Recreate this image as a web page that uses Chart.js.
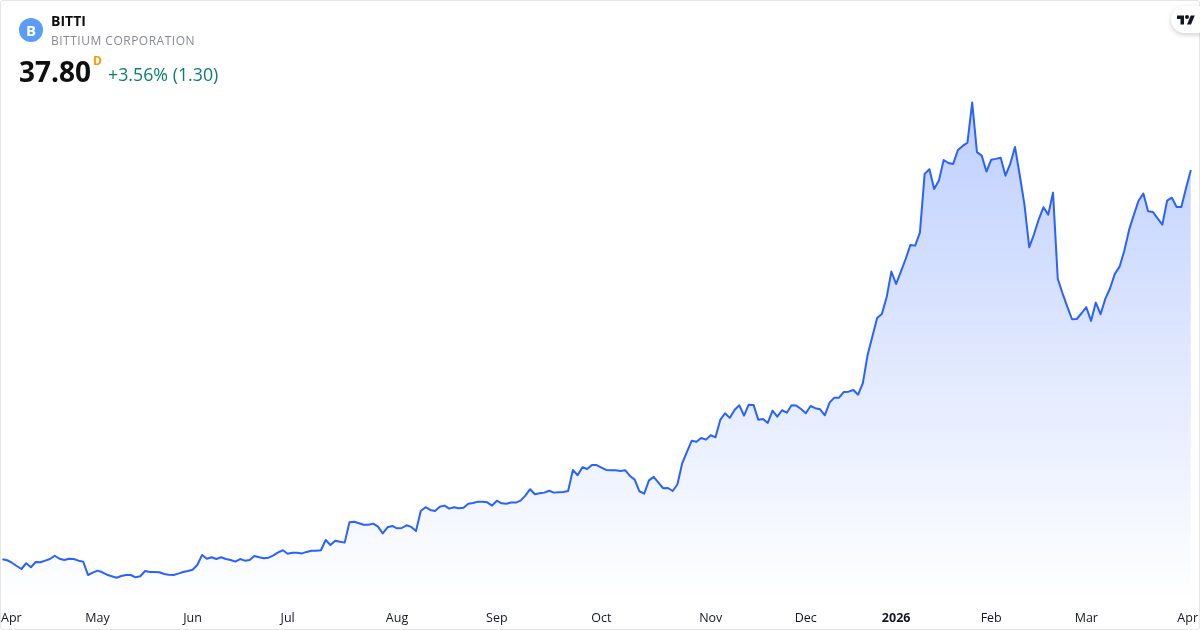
<!DOCTYPE html>
<html>
<head>
<meta charset="utf-8">
<title>BITTI</title>
<script src="https://cdn.jsdelivr.net/npm/chart.js@4"></script>
<style>
  html, body { margin: 0; padding: 0; background: #fff; }
  #wrap { position: relative; width: 1200px; height: 630px; overflow: hidden; font-family: "Open Sans", sans-serif; }
  #frame { position: absolute; left: 0; top: 0; width: 1198px; height: 628px; border: 1px solid #e6e6e6; border-radius: 3px; pointer-events: none; }
  canvas { position: absolute; left: 0; top: 0; }
  .t { position: absolute; white-space: nowrap; line-height: 1; }
  #icon { position: absolute; left: 19px; top: 18px; width: 24px; height: 24px; border-radius: 50%; background: #5a9cf8; color: #fff; font-weight: 700; font-size: 15px; line-height: 24px; text-align: center; }
  #logo { position: absolute; left: 1171px; top: 6px; width: 40px; height: 27px; border-radius: 14px; background: #fff; box-shadow: 0 2px 5px rgba(0,0,0,0.18); }
  #logo svg { position: absolute; left: 6px; top: 9px; }
</style>
</head>
<body>
<div id="wrap">
  <canvas id="priceChart" width="1200" height="630"></canvas>
  <div id="frame"></div>
  <div id="icon">B</div>
  <div class="t" style="left:51px;top:14px;font-size:14px;font-weight:700;color:#0f0f0f">BITTI</div>
  <div class="t" style="left:51px;top:35px;font-size:12px;letter-spacing:0.5px;color:#868993">BITTIUM CORPORATION</div>
  <div class="t" style="left:19px;top:57px;font-size:28px;font-weight:700;color:#0f0f0f">37.80</div>
  <div class="t" style="left:93px;top:55px;font-size:12px;font-weight:700;color:#ff9800">D</div>
  <div class="t" style="left:108px;top:66px;font-size:17.8px;color:#0a7f6e">+3.56% (1.30)</div>
  <div id="logo">
    <svg width="18" height="10" viewBox="0 3 36 20"><path fill="#131722" d="M14 22H7V11H0V4h14v18zM28 22h-8l7.5-18h8L28 22z"/><circle fill="#131722" cx="20" cy="7" r="4"/></svg>
  </div>
</div>
<script>
// daily closes, one per trading day
var closes = [
  9.30, 9.23, 9.05, 8.81, 8.59, 9.01, 8.72, 9.10, 9.08, 9.20,
  9.32, 9.56, 9.34, 9.25, 9.34, 9.32, 9.20, 9.13, 8.15, 8.32,
  8.47, 8.35, 8.17, 8.06, 7.95, 8.08, 8.15, 8.15, 7.98, 8.06,
  8.44, 8.37, 8.37, 8.35, 8.22, 8.17, 8.15, 8.25, 8.37, 8.44,
  8.54, 8.88, 9.62, 9.34, 9.45, 9.32, 9.45, 9.32, 9.25, 9.13,
  9.32, 9.20, 9.25, 9.54, 9.45, 9.37, 9.42, 9.59, 9.81, 9.96,
  9.71, 9.78, 9.78, 9.73, 9.84, 9.93, 9.93, 9.96, 10.71, 10.35,
  10.66, 10.59, 10.52, 12.01, 12.05, 11.94, 11.83, 11.83, 11.91, 11.69,
  11.20, 11.64, 11.74, 11.57, 11.59, 11.79, 11.67, 11.37, 12.84, 13.11,
  12.91, 12.84, 13.15, 13.23, 13.01, 13.11, 13.03, 13.08, 13.37, 13.42,
  13.52, 13.52, 13.47, 13.23, 13.59, 13.40, 13.37, 13.45, 13.45, 13.59,
  13.96, 14.43, 14.06, 14.13, 14.18, 14.32, 14.18, 14.21, 14.23, 14.30,
  15.84, 15.45, 16.04, 15.91, 16.20, 16.20, 16.01, 15.84, 15.82, 15.82,
  15.77, 15.82, 15.40, 15.13, 14.28, 14.10, 15.08, 15.33, 14.91, 14.50,
  14.52, 14.30, 14.79, 16.33, 17.16, 17.98, 17.91, 18.18, 18.06, 18.38,
  18.23, 19.50, 19.99, 19.65, 20.23, 20.58, 19.81, 20.62, 20.60, 19.52,
  19.57, 19.28, 20.18, 19.74, 20.21, 20.03, 20.58, 20.55, 20.30, 19.99,
  20.52, 20.36, 20.28, 19.84, 20.77, 21.13, 21.13, 21.55, 21.57, 21.69,
  21.35, 22.19, 24.26, 25.60, 26.97, 27.26, 28.48, 30.36, 29.45, 30.36,
  31.28, 32.31, 32.26, 33.21, 37.51, 37.85, 36.41, 37.02, 38.53, 38.31,
  38.24, 39.26, 39.56, 39.80, 42.73, 39.10, 38.85, 37.68, 38.55, 38.61,
  38.70, 37.38, 38.24, 39.48, 37.43, 35.24, 32.14, 33.09, 34.19, 35.07,
  34.53, 36.14, 29.84, 28.77, 27.79, 26.87, 26.89, 27.31, 27.75, 26.75,
  28.09, 27.24, 28.36, 29.14, 30.19, 30.72, 31.89, 33.41, 34.51, 35.55,
  36.07, 34.78, 34.73, 34.26, 33.80, 35.55, 35.77, 35.09, 35.09, 36.50,
  37.80
];
var tickLabels = ['Apr', 'May', 'Jun', 'Jul', 'Aug', 'Sep', 'Oct', 'Nov', 'Dec', '2026', 'Feb', 'Mar', 'Apr'];
var tickIndex = [-0.3, 20, 40, 60, 83, 104, 126, 149, 169, 188, 208, 228, 251.5];

var ctx = document.getElementById('priceChart').getContext('2d');

new Chart(ctx, {
  type: 'line',
  data: {
    datasets: [{
      data: closes.map(function (v, i) { return { x: i, y: v }; }),
      borderColor: '#2962ff',
      borderWidth: 2,
      borderJoinStyle: 'round',
      pointRadius: 0,
      tension: 0,
      fill: 'start',
      backgroundColor: function (c) {
        var area = c.chart.chartArea;
        if (!area) return 'rgba(41,98,255,0.3)';
        var g = c.chart.ctx.createLinearGradient(0, 100, 0, area.bottom);
        g.addColorStop(0, 'rgba(41,98,255,0.3)');
        g.addColorStop(1, 'rgba(41,98,255,0)');
        return g;
      }
    }]
  },
  options: {
    responsive: false,
    animation: false,
    layout: { padding: { left: 1, right: 2, top: 0, bottom: 0 } },
    plugins: { legend: { display: false }, tooltip: { enabled: false } },
    scales: {
      y: { display: false, min: 6.32, max: 50.24 },
      x: {
        type: 'linear',
        min: -0.3,
        max: 251.5,
        grid: { display: false },
        border: { display: false },
        afterBuildTicks: function (scale) {
          scale.ticks = tickIndex.map(function (v) { return { value: v }; });
        },
        afterFit: function (scale) {
          scale.height = 30;
          scale.paddingLeft = 0;
          scale.paddingRight = 0;
        },
        ticks: {
          autoSkip: false,
          maxRotation: 0,
          align: 'inner',
          padding: 3,
          color: '#131722',
          font: function (c) {
            return { family: '"Open Sans", sans-serif', size: 12.5, weight: tickLabels[c.index] === '2026' ? '700' : '400' };
          },
          callback: function (v, i) { return tickLabels[i]; }
        }
      }
    }
  }
});
</script>
</body>
</html>
